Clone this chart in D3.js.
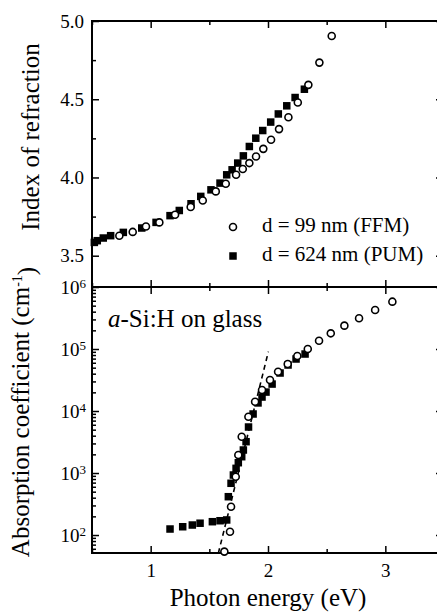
<!DOCTYPE html>
<html>
<head>
<meta charset="utf-8">
<script src="https://cdn.jsdelivr.net/npm/d3@7/dist/d3.min.js"></script>
<style>
  html, body { margin: 0; padding: 0; background: #fff; }
  svg { display: block; font-family: "Liberation Serif", "Times New Roman", serif; }
</style>
</head>
<body>
<svg id="chart" width="437" height="614"></svg>
<script>
// Refractive index n(E) for the two films
const refrEnergyFFM = [0.733, 0.847, 0.960, 1.074, 1.208, 1.341, 1.444, 1.555, 1.640, 1.728, 1.785,
  1.841, 1.898, 1.960, 2.026, 2.094, 2.174, 2.254, 2.344, 2.438, 2.543];
const refrIndexFFM = [3.628, 3.652, 3.687, 3.713, 3.762, 3.811, 3.853, 3.911, 3.960, 4.017, 4.054,
  4.092, 4.134, 4.183, 4.241, 4.309, 4.385, 4.479, 4.592, 4.734, 4.904];
const refrEnergyPUM = [0.520, 0.545, 0.596, 0.659, 0.767, 0.924, 1.046, 1.165, 1.244, 1.344, 1.427,
  1.514, 1.591, 1.648, 1.694, 1.742, 1.790, 1.841, 1.896, 1.955, 2.023, 2.088, 2.160, 2.231, 2.310];
const refrIndexPUM = [3.585, 3.596, 3.613, 3.628, 3.649, 3.677, 3.713, 3.756, 3.789, 3.832, 3.879,
  3.921, 3.964, 4.017, 4.049, 4.092, 4.138, 4.198, 4.251, 4.300, 4.354, 4.406, 4.458, 4.511, 4.564];

// Absorption coefficient alpha(E) in cm^-1
const absEnergyFFM = [1.628, 1.676, 1.685, 1.725, 1.747, 1.776, 1.833, 1.890, 1.949, 2.017, 2.086,
  2.168, 2.250, 2.339, 2.435, 2.535, 2.651, 2.776, 2.913, 3.060];
const absCoeffFFM = [54, 113, 286, 871, 1950, 3850, 8090, 14100, 21800, 31600, 43000,
  57300, 77000, 100000, 136000, 179000, 238000, 313000, 426000, 580000];
const absEnergyPUM = [1.165, 1.273, 1.355, 1.421, 1.526, 1.591, 1.648, 1.662, 1.685, 1.705, 1.728,
  1.747, 1.776, 1.790, 1.813, 1.834, 1.873, 1.915, 1.949, 1.983, 2.035, 2.103, 2.171, 2.239, 2.316];
const absCoeffPUM = [125, 136, 145, 155, 164, 170, 175, 415, 683, 929, 1190,
  1466, 1832, 2350, 3200, 5520, 8950, 13500, 16800, 20200, 27200, 41000, 55200, 69000, 83000];

// Urbach-edge guide line (dashed)
const tailEnergy = [1.577, 2.003];
const tailCoeff = [51, 90600];

// Axis ticks
const energyMajor = [1, 2, 3];
const energyMinor = [0.5, 1.5, 2.5];
const indexMajor = [3.5, 4.0, 4.5, 5.0];
const indexMinor = [3.75, 4.25, 4.75];
const coeffExponents = [2, 3, 4, 5, 6];

const legendLabels = ["d = 99 nm (FFM)", "d = 624 nm (PUM)"];

const svg = d3.select("#chart");
const L = 92, R = 444, T = 21, M = 287, B = 553;
const TICK_FONT = 19;

const x = d3.scaleLinear().domain([0.5, 3.5]).range([L, R]);
const yN = d3.scaleLinear().domain([3.3, 5.0]).range([M, T]);
const yA = d3.scaleLog().domain([51.3, 1e6]).range([B, M]);

const coeffMajor = coeffExponents.map(e => Math.pow(10, e));
const coeffMinor = [];
for (let e = 1; e < 6; e++) {
  for (let k = 2; k <= 9; k++) {
    const v = k * Math.pow(10, e);
    if (v >= yA.domain()[0] && v <= 1e6) coeffMinor.push(v);
  }
}

function styleAxis(g) {
  g.attr("font-family", null).attr("font-size", null);
  g.select(".domain").remove();
  g.selectAll(".tick line").attr("stroke", "#000").attr("stroke-width", 1.5);
  g.selectAll(".tick text").attr("fill", "#000").attr("font-size", TICK_FONT);
}

function addAxis(axis, tx, ty) {
  return svg.append("g").attr("transform", `translate(${tx},${ty})`).call(axis).call(styleAxis);
}

// ---- Top panel: refractive index ----
addAxis(d3.axisLeft(yN).tickValues(indexMajor).tickSize(-7).tickPadding(8).tickFormat(d3.format(".1f")), L, 0);
addAxis(d3.axisLeft(yN).tickValues(indexMinor).tickSize(-4).tickFormat(""), L, 0);
addAxis(d3.axisRight(yN).tickValues(indexMajor).tickSize(-8).tickFormat(""), R, 0);
addAxis(d3.axisRight(yN).tickValues(indexMinor).tickSize(-5).tickFormat(""), R, 0);
addAxis(d3.axisBottom(x).tickValues(energyMajor).tickSize(7).tickFormat(""), 0, T);
addAxis(d3.axisBottom(x).tickValues(energyMinor).tickSize(4).tickFormat(""), 0, T);
// shared middle axis, ticks crossing into both panels
addAxis(d3.axisTop(x).tickValues(energyMajor).tickSize(7).tickFormat(""), 0, M);
addAxis(d3.axisTop(x).tickValues(energyMinor).tickSize(4).tickFormat(""), 0, M);
addAxis(d3.axisBottom(x).tickValues(energyMajor).tickSize(7).tickFormat(""), 0, M);
addAxis(d3.axisBottom(x).tickValues(energyMinor).tickSize(4).tickFormat(""), 0, M);

// ---- Bottom panel: absorption coefficient ----
const logAxis = addAxis(d3.axisLeft(yA).tickValues(coeffMajor).tickSize(-7).tickPadding(11).tickFormat(() => "10"), L, 0);
logAxis.selectAll(".tick text").each(function (d) {
  d3.select(this).append("tspan")
    .attr("dy", "-0.45em").attr("font-size", 13)
    .text(Math.round(Math.log10(d)));
});
logAxis.selectAll(".tick text").attr("x", -6);
addAxis(d3.axisLeft(yA).tickValues(coeffMinor).tickSize(-4).tickFormat(""), L, 0);
addAxis(d3.axisRight(yA).tickValues(coeffMajor).tickSize(-8).tickFormat(""), R, 0);
addAxis(d3.axisRight(yA).tickValues(coeffMinor).tickSize(-5).tickFormat(""), R, 0);
addAxis(d3.axisBottom(x).tickValues(energyMajor).tickSize(-7).tickPadding(11).tickFormat(d3.format("d")), 0, B);
addAxis(d3.axisBottom(x).tickValues(energyMinor).tickSize(-4).tickFormat(""), 0, B);

// Frames
[[T, M], [M, B]].forEach(([y0, y1]) => {
  svg.append("rect").attr("x", L).attr("y", y0).attr("width", R - L).attr("height", y1 - y0)
    .attr("fill", "none").attr("stroke", "#000").attr("stroke-width", 2);
});

// Dashed Urbach guide
svg.append("path")
  .datum(tailEnergy.map((e, i) => [e, tailCoeff[i]]))
  .attr("d", d3.line().x(d => x(d[0])).y(d => yA(d[1])))
  .attr("fill", "none").attr("stroke", "#000").attr("stroke-width", 1.6)
  .attr("stroke-dasharray", "5,4");

// Markers
const SQ = 7.5, CR = 3.5;
function squares(xs, ys, yScale) {
  svg.append("g").selectAll("rect").data(xs.map((e, i) => [e, ys[i]])).join("rect")
    .attr("x", d => x(d[0]) - SQ / 2).attr("y", d => yScale(d[1]) - SQ / 2)
    .attr("width", SQ).attr("height", SQ).attr("fill", "#000");
}
function circles(xs, ys, yScale) {
  svg.append("g").selectAll("circle").data(xs.map((e, i) => [e, ys[i]])).join("circle")
    .attr("cx", d => x(d[0])).attr("cy", d => yScale(d[1])).attr("r", CR)
    .attr("fill", "#fff").attr("stroke", "#000").attr("stroke-width", 1.6);
}
squares(refrEnergyPUM, refrIndexPUM, yN);
circles(refrEnergyFFM, refrIndexFFM, yN);
squares(absEnergyPUM, absCoeffPUM, yA);
circles(absEnergyFFM, absCoeffFFM, yA);

// Legend
const lg = svg.append("g").attr("font-size", 21);
lg.append("circle").attr("cx", 233).attr("cy", 227).attr("r", CR)
  .attr("fill", "#fff").attr("stroke", "#000").attr("stroke-width", 1.6);
lg.append("rect").attr("x", 233 - SQ / 2).attr("y", 256 - SQ / 2).attr("width", SQ).attr("height", SQ).attr("fill", "#000");
lg.append("text").attr("x", 262).attr("y", 232).text(legendLabels[0]);
lg.append("text").attr("x", 262).attr("y", 261).text(legendLabels[1]);

// Panel annotation
const ann = svg.append("text").attr("x", 108).attr("y", 327).attr("font-size", 25);
ann.append("tspan").attr("font-style", "italic").text("a");
ann.append("tspan").text("-Si:H on glass");

// Axis titles
svg.append("text").attr("x", 268).attr("y", 606).attr("font-size", 25)
  .attr("text-anchor", "middle").text("Photon energy (eV)");
svg.append("text").attr("transform", "translate(39,137) rotate(-90)").attr("font-size", 25)
  .attr("text-anchor", "middle").text("Index of refraction");
const yt = svg.append("text").attr("transform", "translate(29,412) rotate(-90)").attr("font-size", 25)
  .attr("text-anchor", "middle");
yt.append("tspan").text("Absorption coefficient (cm");
yt.append("tspan").attr("dy", "-0.5em").attr("font-size", 14).text("-1");
yt.append("tspan").attr("dy", "0.5em").text(")");
</script>
</body>
</html>
